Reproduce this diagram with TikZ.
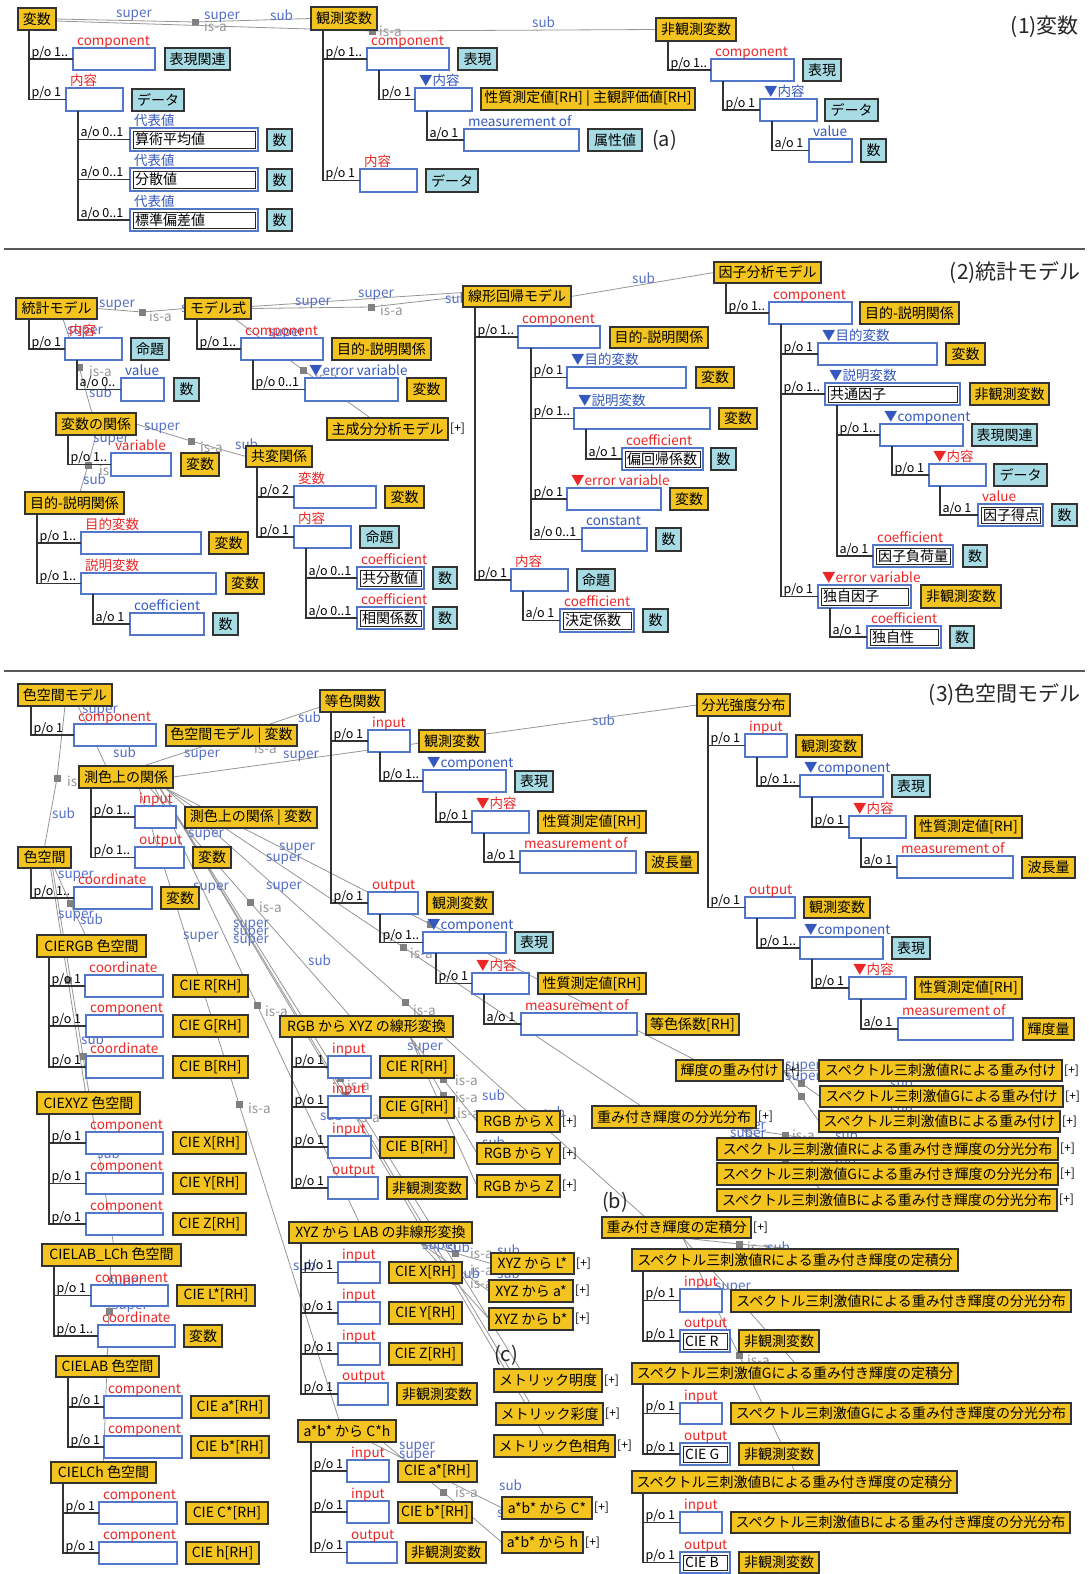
\documentclass[tikz,border=0pt]{standalone}
\usepackage{fontspec}
\setmainfont{Noto Sans CJK JP}
\pgfdeclarelayer{back}
\pgfdeclarelayer{links}
\pgfsetlayers{back,links,main}

\definecolor{clsY}{RGB}{243,195,32}
\definecolor{insB}{RGB}{168,220,228}
\definecolor{slotB}{RGB}{82,118,200}
\definecolor{roleR}{RGB}{236,38,38}
\definecolor{roleB}{RGB}{52,88,190}
\definecolor{linkG}{RGB}{150,150,150}
\definecolor{supB}{RGB}{86,112,200}

\newcommand\fsz[1]{\fontsize{#1}{#1}\selectfont}
\newcounter{lbl}

\tikzset{
  bx/.style={draw=black!80, line width=1.1pt, inner sep=0pt, outer sep=0pt, font=\fsz{14}, text=black},
  clsb/.style={bx, fill=clsY},
  insb/.style={bx, fill=insB},
  slotb/.style={draw=slotB, line width=1.1pt, fill=white, inner sep=0pt, outer sep=0pt},
  rr/.style={text=roleR, font=\fsz{13.5}, inner sep=0pt},
  bb/.style={text=roleB, font=\fsz{13.5}, inner sep=0pt},
  card/.style={text=black, font=\fsz{12.5}, inner sep=0pt},
  trl/.style={draw=black!80, line width=1.2pt},
  isa/.style={draw=linkG, line width=0.8pt},
  sqr/.style={fill=black!50, minimum size=7pt, inner sep=0pt},
  lsup/.style={text=supB, font=\fsz{13.5}, inner sep=0pt, anchor=west},
  lisa/.style={text=linkG, font=\fsz{13.5}, inner sep=0pt, anchor=west},
  plusmk/.style={text=black, font=\fsz{12}, inner sep=0pt, anchor=west},
  ttl/.style={text=black!85, font=\fsz{21}, inner sep=0pt},
  vtext/.style={text=black, font=\fsz{14}, inner sep=0pt, anchor=west},
  sepl/.style={draw=black!65, line width=1.2pt},
}

% class box (yellow), instance box (light blue): name, x1, y1, x2, y2, text
\newcommand\mkcls[6]{\node[clsb,minimum width={(#4-#2)*1pt},minimum height={(#5-#3)*1pt},anchor=north west] (#1) at (#2,#3) {#6};}
\newcommand\mkins[6]{\node[insb,minimum width={(#4-#2)*1pt},minimum height={(#5-#3)*1pt},anchor=north west] (#1) at (#2,#3) {#6};}
% slot with its role label above
\newcommand\mkslot[7][rr]{\node[slotb,minimum width={(#5-#3)*1pt},minimum height={(#6-#4)*1pt},anchor=north west] (#2) at (#3,#4) {};\node[#1,anchor=base west] (#2-r) at ([shift={(4pt,3pt)}]#2.north west) {#7};}
% slot holding a value
\newcommand\mkval[8][rr]{\mkslot[#1]{#2}{#3}{#4}{#5}{#6}{#7}\draw[black!85,line width=1pt] ([shift={(3pt,-3pt)}]#2.north west) rectangle ([shift={(-3pt,3pt)}]#2.south east);\node[vtext] (#2-t) at ([xshift=5pt]#2.west) {#8};}
% part-of branch: parent, x offset of the trunk, child, cardinality
\newcommand\mkbr[4]{\draw[trl] ([xshift=#2pt]#1.south west) |- node[card,pos=0.5,anchor=base west,xshift=2pt,yshift=3pt] (#3-c) {#4} (#3.west);}
\newcommand\mkplus[1]{\node[plusmk] (#1-p) at ([xshift=2pt]#1.east) {[+]};}
% is-a link labels
\newcommand\ls[3]{\stepcounter{lbl}\node[lsup] (l\arabic{lbl}) at (#1,#2) {#3};}
\newcommand\li[3]{\stepcounter{lbl}\node[lisa] (l\arabic{lbl}) at (#1,#2) {#3};}
% is-a link through a square
\newcommand\isa[4]{\coordinate (#2) at #3;\draw[isa] #1 -- (#2) -- #4;\node[sqr] (#2-s) at (#2) {};}

\begin{document}
\begin{tikzpicture}[x=1pt,y=-1pt]
\useasboundingbox (0,0) rectangle (1089,1574);
\begin{pgfonlayer}{back}
\fill[white] (0,0) rectangle (1089,1574);
\end{pgfonlayer}

\draw[sepl] (4,249) -- (1085,249);
\draw[sepl] (4,671) -- (1085,671);

\node[ttl,anchor=east] (t1) at (1079,27) {(1)変数};
\node[ttl,anchor=east] (t2) at (1081,273) {(2)統計モデル};
\node[ttl,anchor=east] (t3) at (1081,695) {(3)色空間モデル};
\node[ttl,anchor=west,font=\fsz{20}] (ta) at (652,140) {(a)};
\node[ttl,anchor=west,font=\fsz{20}] (tb) at (602,1202) {(b)};
\node[ttl,anchor=west,font=\fsz{20}] (tc) at (494,1355) {(c)};

% ---------------- (1) variables
\mkcls{v}{18}{8}{56}{30}{変数}
\mkcls{ov}{311}{7}{377}{30}{観測変数}
\mkcls{nov}{656}{18}{736}{41}{非観測変数}
\mkslot{v1}{73}{48}{155}{70}{component}
\mkins{v1c}{165}{48}{230}{70}{表現関連}
\mkslot{v2}{66}{88}{123}{111}{内容}
\mkins{v2c}{132}{89}{184}{111}{データ}
\mkval[bb]{v21}{130}{128}{258}{151}{代表値}{算術平均値}
\mkins{v21c}{267}{129}{292}{151}{数}
\mkval[bb]{v22}{130}{168}{258}{191}{代表値}{分散値}
\mkins{v22c}{267}{169}{292}{191}{数}
\mkval[bb]{v23}{130}{209}{258}{231}{代表値}{標準偏差値}
\mkins{v23c}{267}{209}{292}{231}{数}
\mkslot{o1}{367}{48}{449}{70}{component}
\mkins{o1c}{458}{48}{497}{70}{表現}
\mkslot[bb]{o11}{415}{88}{472}{111}{▼内容}
\mkcls{o11c}{481}{88}{695}{110}{性質測定値[RH] | 主観評価値[RH]}
\mkslot[bb]{o111}{464}{129}{579}{151}{measurement of}
\mkins{o111c}{588}{129}{642}{151}{属性値}
\mkslot{o2}{360}{169}{417}{192}{内容}
\mkins{o2c}{426}{169}{478}{192}{データ}
\mkslot{n1}{711}{59}{794}{81}{component}
\mkins{n1c}{803}{59}{841}{81}{表現}
\mkslot[bb]{n11}{760}{99}{817}{121}{▼内容}
\mkins{n11c}{825}{99}{878}{121}{データ}
\mkslot[bb]{n111}{809}{139}{852}{162}{value}
\mkins{n111c}{861}{139}{886}{162}{数}

\mkbr{v}{11}{v1}{p/o 1..}
\mkbr{v}{11}{v2}{p/o 1}
\mkbr{v2}{12}{v21}{a/o 0..1}
\mkbr{v2}{12}{v22}{a/o 0..1}
\mkbr{v2}{12}{v23}{a/o 0..1}
\mkbr{ov}{12}{o1}{p/o 1..}
\mkbr{o1}{12}{o11}{p/o 1}
\mkbr{o11}{12}{o111}{a/o 1}
\mkbr{ov}{12}{o2}{p/o 1}
\mkbr{nov}{12}{n1}{p/o 1..}
\mkbr{n1}{12}{n11}{p/o 1}
\mkbr{n11}{12}{n111}{a/o 1}

% ---------------- (2) statistical models
\mkcls{sm}{16}{298}{97}{319}{統計モデル}
\mkcls{mf}{185}{298}{251}{319}{モデル式}
\mkcls{lr}{463}{286}{571}{307}{線形回帰モデル}
\mkcls{fa}{714}{262}{821}{283}{因子分析モデル}
\mkcls{vr}{56}{413}{136}{435}{変数の関係}
\mkcls{cv}{246}{446}{312}{467}{共変関係}
\mkcls{ep}{25}{492}{124}{514}{目的-説明関係}
\mkcls{pca}{327}{418}{448}{440}{主成分分析モデル}\mkplus{pca}
\mkslot{s1}{65}{338}{122}{360}{内容}
\mkins{s1c}{131}{338}{169}{360}{命題}
\mkslot[bb]{s11}{121}{378}{164}{401}{value}
\mkins{s11c}{174}{378}{199}{401}{数}
\mkslot{m1}{241}{338}{323}{360}{component}
\mkcls{m1c}{332}{338}{431}{360}{目的-説明関係}
\mkslot[bb]{m11}{305}{378}{398}{401}{▼error variable}
\mkcls{m11c}{407}{378}{446}{401}{変数}
\mkslot{r1}{111}{453}{171}{476}{variable}
\mkcls{r1c}{181}{453}{219}{476}{変数}
\mkslot{e1}{81}{532}{201}{554}{目的変数}
\mkcls{e1c}{209}{532}{248}{554}{変数}
\mkslot{e2}{81}{573}{216}{594}{説明変数}
\mkcls{e2c}{226}{573}{264}{594}{変数}
\mkslot[bb]{e21}{130}{613}{204}{635}{coefficient}
\mkins{e21c}{213}{613}{238}{635}{数}
\mkslot{c1}{294}{486}{376}{508}{変数}
\mkcls{c1c}{385}{486}{424}{508}{変数}
\mkslot{c2}{294}{526}{351}{548}{内容}
\mkins{c2c}{360}{526}{399}{548}{命題}
\mkval{c21}{357}{567}{424}{589}{coefficient}{共分散値}
\mkins{c21c}{433}{567}{457}{589}{数}
\mkval{c22}{357}{607}{424}{629}{coefficient}{相関係数}
\mkins{c22c}{433}{607}{457}{629}{数}
\mkslot{l1}{518}{326}{600}{348}{component}
\mkcls{l1c}{610}{327}{708}{348}{目的-説明関係}
\mkslot[bb]{l11}{567}{367}{686}{388}{▼目的変数}
\mkcls{l11c}{696}{367}{734}{388}{変数}
\mkslot[bb]{l12}{574}{408}{710}{429}{▼説明変数}
\mkcls{l12c}{719}{408}{757}{429}{変数}
\mkval{l121}{622}{448}{703}{470}{coefficient}{偏回帰係数}
\mkins{l121c}{711}{448}{736}{470}{数}
\mkslot{l13}{567}{488}{661}{510}{▼error variable}
\mkcls{l13c}{670}{488}{708}{510}{変数}
\mkslot[bb]{l14}{582}{528}{647}{551}{constant}
\mkins{l14c}{656}{528}{681}{551}{数}
\mkslot{l2}{511}{569}{568}{591}{内容}
\mkins{l2c}{577}{569}{615}{591}{命題}
\mkval{l21}{560}{609}{634}{632}{coefficient}{決定係数}
\mkins{l21c}{643}{609}{668}{632}{数}
\mkslot{f1}{769}{302}{852}{324}{component}
\mkcls{f1c}{860}{302}{959}{324}{目的-説明関係}
\mkslot[bb]{f11}{818}{343}{937}{365}{▼目的変数}
\mkcls{f11c}{946}{343}{985}{365}{変数}
\mkval[bb]{f12}{825}{383}{960}{405}{▼説明変数}{共通因子}
\mkcls{f12c}{970}{383}{1049}{405}{非観測変数}
\mkslot[bb]{f121}{880}{424}{963}{446}{▼component}
\mkins{f121c}{972}{424}{1037}{446}{表現関連}
\mkslot{f1211}{929}{464}{986}{486}{▼内容}
\mkins{f1211c}{994}{464}{1047}{486}{データ}
\mkval{f12111}{978}{504}{1043}{526}{value}{因子得点}
\mkins{f12111c}{1052}{504}{1077}{526}{数}
\mkval{f122}{873}{545}{953}{567}{coefficient}{因子負荷量}
\mkins{f122c}{963}{545}{987}{567}{数}
\mkval{f13}{818}{585}{911}{608}{▼error variable}{独自因子}
\mkcls{f13c}{921}{585}{1001}{608}{非観測変数}
\mkval{f131}{867}{626}{941}{648}{coefficient}{独自性}
\mkins{f131c}{950}{626}{974}{648}{数}

\mkbr{sm}{13}{s1}{p/o 1}
\mkbr{s1}{12}{s11}{a/o 0..}
\mkbr{mf}{12}{m1}{p/o 1..}
\mkbr{m1}{12}{m11}{p/o 0..1}
\mkbr{vr}{12}{r1}{p/o 1..}
\mkbr{ep}{12}{e1}{p/o 1..}
\mkbr{ep}{12}{e2}{p/o 1..}
\mkbr{e2}{12}{e21}{a/o 1}
\mkbr{cv}{11}{c1}{p/o 2}
\mkbr{cv}{11}{c2}{p/o 1}
\mkbr{c2}{12}{c21}{a/o 0..1}
\mkbr{c2}{12}{c22}{a/o 0..1}
\mkbr{lr}{12}{l1}{p/o 1..}
\mkbr{l1}{13}{l11}{p/o 1}
\mkbr{l1}{13}{l12}{p/o 1..}
\mkbr{l12}{12}{l121}{a/o 1}
\mkbr{l1}{13}{l13}{p/o 1}
\mkbr{l1}{13}{l14}{a/o 0..1}
\mkbr{lr}{12}{l2}{p/o 1}
\mkbr{l2}{12}{l21}{a/o 1}
\mkbr{fa}{12}{f1}{p/o 1..}
\mkbr{f1}{12}{f11}{p/o 1}
\mkbr{f1}{12}{f12}{p/o 1..}
\mkbr{f12}{12}{f121}{p/o 1..}
\mkbr{f121}{12}{f1211}{p/o 1}
\mkbr{f1211}{11}{f12111}{a/o 1}
\mkbr{f12}{12}{f122}{a/o 1}
\mkbr{f1}{12}{f13}{p/o 1}
\mkbr{f13}{12}{f131}{a/o 1}

% ---------------- (3) colour space models
\mkcls{csm}{18}{684}{112}{706}{色空間モデル}
\mkslot{k1}{74}{724}{156}{746}{component}
\mkcls{k1c}{166}{725}{297}{746}{色空間モデル | 変数}
\mkcls{cm}{320}{690}{385}{712}{等色関数}
\mkcls{sd}{697}{694}{790}{716}{分光強度分布}
\mkcls{mr}{79}{766}{173}{788}{測色上の関係}
\mkslot{mr1}{135}{806}{176}{828}{input}
\mkcls{mr1c}{185}{807}{317}{828}{測色上の関係 | 変数}
\mkslot{mr2}{135}{847}{184}{868}{output}
\mkcls{mr2c}{193}{847}{231}{868}{変数}
\mkcls{cs}{18}{847}{71}{868}{色空間}
\mkslot{cs1}{74}{887}{152}{909}{coordinate}
\mkcls{cs1c}{161}{887}{199}{909}{変数}
\mkcls{rgb}{37}{935}{146}{957}{CIERGB 色空間}
\mkslot{rg1}{85}{975}{163}{997}{coordinate}
\mkcls{rg1c}{173}{975}{248}{997}{CIE R[RH]}
\mkslot{rg2}{86}{1015}{163}{1037}{component}
\mkcls{rg2c}{173}{1015}{248}{1037}{CIE G[RH]}
\mkslot{rg3}{86}{1056}{163}{1078}{coordinate}
\mkcls{rg3c}{173}{1056}{248}{1078}{CIE B[RH]}
\mkcls{xyz}{37}{1092}{140}{1114}{CIEXYZ 色空間}
\mkslot{xy1}{86}{1132}{163}{1154}{component}
\mkcls{xy1c}{173}{1132}{246}{1154}{CIE X[RH]}
\mkslot{xy2}{86}{1173}{163}{1194}{component}
\mkcls{xy2c}{173}{1173}{246}{1194}{CIE Y[RH]}
\mkslot{xy3}{86}{1213}{163}{1235}{component}
\mkcls{xy3c}{173}{1213}{246}{1235}{CIE Z[RH]}
\mkcls{lch}{42}{1244}{181}{1266}{CIELAB\_LCh 色空間}
\mkslot{lc1}{91}{1285}{168}{1306}{component}
\mkcls{lc1c}{177}{1285}{255}{1306}{CIE L*[RH]}
\mkslot{lc2}{98}{1325}{175}{1347}{coordinate}
\mkcls{lc2c}{184}{1325}{222}{1347}{変数}
\mkcls{lab}{56}{1356}{159}{1377}{CIELAB 色空間}
\mkslot{la1}{104}{1396}{182}{1418}{component}
\mkcls{la1c}{191}{1396}{269}{1418}{CIE a*[RH]}
\mkslot{la2}{104}{1436}{182}{1458}{component}
\mkcls{la2c}{191}{1436}{269}{1458}{CIE b*[RH]}
\mkcls{lc}{51}{1462}{156}{1483}{CIELCh 色空間}
\mkslot{lh1}{99}{1502}{177}{1524}{component}
\mkcls{lh1c}{186}{1502}{268}{1524}{CIE C*[RH]}
\mkslot{lh2}{99}{1542}{177}{1564}{component}
\mkcls{lh2c}{186}{1542}{259}{1564}{CIE h[RH]}

\mkslot{cm1}{368}{730}{410}{752}{input}
\mkcls{cm1c}{419}{730}{485}{752}{観測変数}
\mkslot[bb]{cm11}{423}{770}{506}{792}{▼component}
\mkins{cm11c}{515}{771}{553}{792}{表現}
\mkslot{cm111}{472}{811}{529}{833}{▼内容}
\mkcls{cm111c}{538}{811}{646}{833}{性質測定値[RH]}
\mkslot{cm1111}{520}{851}{636}{873}{measurement of}
\mkcls{cm1111c}{646}{852}{698}{873}{波長量}
\mkslot{cm2}{368}{892}{418}{914}{output}
\mkcls{cm2c}{427}{892}{493}{914}{観測変数}
\mkslot[bb]{cm21}{423}{932}{506}{953}{▼component}
\mkins{cm21c}{515}{932}{553}{953}{表現}
\mkslot{cm211}{472}{973}{529}{994}{▼内容}
\mkcls{cm211c}{538}{973}{646}{994}{性質測定値[RH]}
\mkslot{cm2111}{521}{1013}{637}{1035}{measurement of}
\mkcls{cm2111c}{646}{1014}{739}{1035}{等色係数[RH]}

\mkslot{sd1}{745}{734}{787}{757}{input}
\mkcls{sd1c}{796}{735}{862}{757}{観測変数}
\mkslot[bb]{sd11}{800}{775}{883}{797}{▼component}
\mkins{sd11c}{892}{775}{930}{797}{表現}
\mkslot{sd111}{849}{816}{906}{838}{▼内容}
\mkcls{sd111c}{915}{816}{1022}{838}{性質測定値[RH]}
\mkslot{sd1111}{897}{856}{1013}{878}{measurement of}
\mkcls{sd1111c}{1022}{857}{1075}{878}{波長量}
\mkslot{sd2}{745}{897}{795}{918}{output}
\mkcls{sd2c}{804}{897}{870}{918}{観測変数}
\mkslot[bb]{sd21}{800}{937}{883}{959}{▼component}
\mkins{sd21c}{892}{937}{930}{959}{表現}
\mkslot{sd211}{849}{977}{906}{999}{▼内容}
\mkcls{sd211c}{915}{977}{1022}{999}{性質測定値[RH]}
\mkslot{sd2111}{898}{1018}{1013}{1040}{measurement of}
\mkcls{sd2111c}{1023}{1018}{1074}{1040}{輝度量}

\mkcls{rx}{280}{1016}{453}{1037}{RGB から XYZ の線形変換}
\mkslot{rx1}{328}{1056}{371}{1078}{input}
\mkcls{rx1c}{380}{1056}{454}{1078}{CIE R[RH]}
\mkslot{rx2}{328}{1096}{371}{1118}{input}
\mkcls{rx2c}{380}{1097}{454}{1118}{CIE G[RH]}
\mkslot{rx3}{328}{1136}{371}{1158}{input}
\mkcls{rx3c}{380}{1137}{454}{1158}{CIE B[RH]}
\mkslot{rx4}{328}{1177}{378}{1199}{output}
\mkcls{rx4c}{387}{1177}{467}{1199}{非観測変数}
\mkcls{rX}{477}{1111}{560}{1132}{RGB から X}\mkplus{rX}
\mkcls{rY}{477}{1143}{560}{1164}{RGB から Y}\mkplus{rY}
\mkcls{rZ}{477}{1175}{560}{1197}{RGB から Z}\mkplus{rZ}

\mkcls{xl}{289}{1222}{472}{1243}{XYZ から LAB の非線形変換}
\mkslot{xl1}{338}{1262}{380}{1283}{input}
\mkcls{xl1c}{389}{1262}{462}{1283}{CIE X[RH]}
\mkslot{xl2}{338}{1302}{380}{1324}{input}
\mkcls{xl2c}{389}{1302}{462}{1324}{CIE Y[RH]}
\mkslot{xl3}{338}{1343}{380}{1365}{input}
\mkcls{xl3c}{389}{1343}{462}{1365}{CIE Z[RH]}
\mkslot{xl4}{338}{1383}{388}{1405}{output}
\mkcls{xl4c}{397}{1383}{477}{1405}{非観測変数}
\mkcls{xL}{491}{1253}{574}{1274}{XYZ から L*}\mkplus{xL}
\mkcls{xa}{489}{1280}{573}{1302}{XYZ から a*}\mkplus{xa}
\mkcls{xb}{489}{1308}{573}{1330}{XYZ から b*}\mkplus{xb}
\mkcls{mt1}{494}{1369}{602}{1392}{メトリック明度}\mkplus{mt1}
\mkcls{mt2}{496}{1403}{603}{1425}{メトリック彩度}\mkplus{mt2}
\mkcls{mt3}{494}{1435}{615}{1457}{メトリック色相角}\mkplus{mt3}

\mkcls{ac}{298}{1420}{396}{1442}{a*b* から C*h}
\mkslot{ac1}{347}{1460}{389}{1482}{input}
\mkcls{ac1c}{398}{1461}{477}{1482}{CIE a*[RH]}
\mkslot{ac2}{347}{1501}{389}{1523}{input}
\mkcls{ac2c}{398}{1502}{472}{1523}{CIE b*[RH]}
\mkslot{ac3}{347}{1542}{397}{1563}{output}
\mkcls{ac3c}{406}{1542}{486}{1563}{非観測変数}
\mkcls{aC}{502}{1497}{592}{1519}{a*b* から C*}\mkplus{aC}
\mkcls{ah}{502}{1532}{583}{1553}{a*b* から h}\mkplus{ah}

\mkcls{lw}{676}{1060}{783}{1081}{輝度の重み付け}\mkplus{lw}
\mkcls{sR}{819}{1060}{1062}{1081}{スペクトル三刺激値Rによる重み付け}\mkplus{sR}
\mkcls{sG}{820}{1086}{1063}{1107}{スペクトル三刺激値Gによる重み付け}\mkplus{sG}
\mkcls{sB}{819}{1111}{1060}{1132}{スペクトル三刺激値Bによる重み付け}\mkplus{sB}
\mkcls{ws}{592}{1106}{756}{1128}{重み付き輝度の分光分布}\mkplus{ws}
\mkcls{wR}{717}{1138}{1058}{1160}{スペクトル三刺激値Rによる重み付き輝度の分光分布}\mkplus{wR}
\mkcls{wG}{717}{1163}{1058}{1185}{スペクトル三刺激値Gによる重み付き輝度の分光分布}\mkplus{wG}
\mkcls{wB}{717}{1189}{1057}{1211}{スペクトル三刺激値Bによる重み付き輝度の分光分布}\mkplus{wB}
\mkcls{wi}{602}{1217}{751}{1238}{重み付き輝度の定積分}\mkplus{wi}
\mkcls{iR}{632}{1249}{958}{1271}{スペクトル三刺激値Rによる重み付き輝度の定積分}
\mkslot{iR1}{680}{1289}{722}{1312}{input}
\mkcls{iR1c}{731}{1290}{1071}{1312}{スペクトル三刺激値Rによる重み付き輝度の分光分布}
\mkval{iR2}{680}{1330}{730}{1352}{output}{CIE R}
\mkcls{iR2c}{739}{1330}{819}{1352}{非観測変数}
\mkcls{iG}{632}{1363}{958}{1384}{スペクトル三刺激値Gによる重み付き輝度の定積分}
\mkslot{iG1}{680}{1403}{722}{1424}{input}
\mkcls{iG1c}{731}{1403}{1071}{1424}{スペクトル三刺激値Gによる重み付き輝度の分光分布}
\mkval{iG2}{680}{1443}{730}{1465}{output}{CIE G}
\mkcls{iG2c}{739}{1443}{819}{1465}{非観測変数}
\mkcls{iB}{632}{1471}{957}{1493}{スペクトル三刺激値Bによる重み付き輝度の定積分}
\mkslot{iB1}{680}{1512}{722}{1533}{input}
\mkcls{iB1c}{731}{1512}{1070}{1533}{スペクトル三刺激値Bによる重み付き輝度の分光分布}
\mkval{iB2}{680}{1552}{730}{1573}{output}{CIE B}
\mkcls{iB2c}{739}{1552}{819}{1573}{非観測変数}

\mkbr{csm}{13}{k1}{p/o 1}
\mkbr{mr}{12}{mr1}{p/o 1..}
\mkbr{mr}{12}{mr2}{p/o 1..}
\mkbr{cs}{13}{cs1}{p/o 1..}
\mkbr{rgb}{12}{rg1}{p/o 1}
\mkbr{rgb}{12}{rg2}{p/o 1}
\mkbr{rgb}{12}{rg3}{p/o 1}
\mkbr{xyz}{12}{xy1}{p/o 1}
\mkbr{xyz}{12}{xy2}{p/o 1}
\mkbr{xyz}{12}{xy3}{p/o 1}
\mkbr{lch}{12}{lc1}{p/o 1}
\mkbr{lch}{12}{lc2}{p/o 1..}
\mkbr{lab}{12}{la1}{p/o 1}
\mkbr{lab}{12}{la2}{p/o 1}
\mkbr{lc}{12}{lh1}{p/o 1}
\mkbr{lc}{12}{lh2}{p/o 1}
\mkbr{cm}{11}{cm1}{p/o 1}
\mkbr{cm1}{12}{cm11}{p/o 1..}
\mkbr{cm11}{13}{cm111}{p/o 1}
\mkbr{cm111}{12}{cm1111}{a/o 1}
\mkbr{cm}{11}{cm2}{p/o 1}
\mkbr{cm2}{12}{cm21}{p/o 1..}
\mkbr{cm21}{13}{cm211}{p/o 1}
\mkbr{cm211}{12}{cm2111}{a/o 1}
\mkbr{sd}{11}{sd1}{p/o 1}
\mkbr{sd1}{12}{sd11}{p/o 1..}
\mkbr{sd11}{12}{sd111}{p/o 1}
\mkbr{sd111}{12}{sd1111}{a/o 1}
\mkbr{sd}{11}{sd2}{p/o 1}
\mkbr{sd2}{12}{sd21}{p/o 1..}
\mkbr{sd21}{12}{sd211}{p/o 1}
\mkbr{sd211}{12}{sd2111}{a/o 1}
\mkbr{rx}{12}{rx1}{p/o 1}
\mkbr{rx}{12}{rx2}{p/o 1}
\mkbr{rx}{12}{rx3}{p/o 1}
\mkbr{rx}{12}{rx4}{p/o 1}
\mkbr{xl}{12}{xl1}{p/o 1}
\mkbr{xl}{12}{xl2}{p/o 1}
\mkbr{xl}{12}{xl3}{p/o 1}
\mkbr{xl}{12}{xl4}{p/o 1}
\mkbr{ac}{13}{ac1}{p/o 1}
\mkbr{ac}{13}{ac2}{p/o 1}
\mkbr{ac}{13}{ac3}{p/o 1}
\mkbr{iR}{11}{iR1}{p/o 1}
\mkbr{iR}{11}{iR2}{p/o 1}
\mkbr{iG}{11}{iG1}{p/o 1}
\mkbr{iG}{11}{iG2}{p/o 1}
\mkbr{iB}{11}{iB1}{p/o 1}
\mkbr{iB}{11}{iB2}{p/o 1}

% ---------------- is-a links (behind the boxes)
\begin{pgfonlayer}{links}
% (1)
\isa{(v.east)}{q1}{(195,22)}{(ov.west)}
\isa{([yshift=-2pt]v.east)}{q2}{(372,31)}{(nov.west)}
\ls{116}{15}{super}\ls{204}{17}{super}\li{204}{26}{is-a}\ls{270}{15}{sub}
\li{379}{31}{is-a}\ls{532}{22}{sub}
% (2)
\isa{(sm.east)}{q3}{(142,312)}{(mf.west)}
\ls{99}{305}{super}\li{149}{316}{is-a}\ls{181}{307}{sub}
\isa{([xshift=-34pt]sm.south east)}{q4}{(79,367)}{([xshift=-4pt]vr.north)}
\ls{67}{332}{super}\li{89}{371}{is-a}\ls{89}{392}{sub}
\isa{(mf.east)}{q5}{(371,307)}{(lr.west)}
\draw[isa] ([yshift=2pt]mf.east) -- ([yshift=4pt]lr.west);
\ls{295}{303}{super}\ls{358}{295}{super}\li{380}{310}{is-a}\ls{445}{298}{sub}
\draw[isa] (lr.east) -- (fa.west);
\ls{632}{278}{sub}
\isa{([xshift=-16pt]mf.south east)}{q6}{(303,370)}{([xshift=-17pt]pca.north)}
\ls{268}{334}{super}\li{315}{377}{is-a}
\isa{(vr.east)}{q7}{(191,441)}{(cv.west)}
\ls{144}{428}{super}\li{200}{447}{is-a}\ls{235}{444}{sub}
\isa{([xshift=40pt]vr.south west)}{q8}{(88,465)}{([xshift=55pt]ep.north west)}
\ls{93}{440}{super}\li{99}{470}{is-a}\ls{83}{479}{sub}
% (3) colour spaces
\isa{(csm.south)}{q9}{(57,778)}{(cs.north)}
\li{67}{781}{is-a}\ls{52}{813}{sub}
\draw[isa] ([xshift=13pt]csm.south) -- ([xshift=-20pt]mr.north);
\ls{82}{711}{super}\ls{113}{752}{sub}
\isa{([xshift=-30pt]mr.north east)}{q10}{(232,737)}{([yshift=-6pt]cm.west)}
\ls{184}{755}{super}\li{254}{748}{is-a}\ls{298}{717}{sub}
\isa{(mr.east)}{q11}{(435,741)}{(sd.west)}
\ls{283}{756}{super}\ls{592}{720}{sub}
\isa{([xshift=10pt]cs.south)}{q12}{(70,903)}{([xshift=-6pt]rgb.north)}
\isa{([xshift=6pt]cs.south)}{q13}{(68,980)}{([xshift=-3pt]xyz.north)}
\isa{([xshift=8pt]cs.south)}{q14}{(83,1056)}{([xshift=2pt]lch.north)}
\ls{58}{876}{super}\ls{58}{916}{super}\ls{80}{919}{sub}\ls{81}{1039}{sub}\ls{97}{1153}{sub}
\isa{([xshift=-1pt]lch.south)}{q15}{(109,1311)}{(lab.north)}
\isa{([xshift=-1pt]lch.south)}{q16}{(107,1364)}{(lc.north)}
\ls{108}{1283}{super}\ls{112}{1307}{super}
% (3) colorimetric relations
\isa{([xshift=71pt]mr.south west)}{q17}{(250,902)}{([xshift=-16.5pt]rx.north)}
\isa{([xshift=76pt]mr.south west)}{q18}{(257,1005)}{([xshift=-21.5pt]xl.north)}
\isa{([xshift=60pt]mr.south west)}{q19}{(239,1104)}{([xshift=-8pt]ac.north)}
\isa{([xshift=86pt]mr.south west)}{q40}{(430,924)}{([xshift=-34.5pt]lw.north)}
\isa{([xshift=86pt]mr.south west)}{q41}{(403,947)}{([xshift=-33pt]ws.north)}
\isa{([xshift=86pt]mr.south west)}{q42}{(405,1002)}{([xshift=-31.5pt]wi.north)}
\isa{([xshift=81pt]mr.south west)}{q43}{(340,1078)}{([xshift=-28pt]mt1.north)}
\isa{([xshift=81pt]mr.south west)}{q44}{(345,1095)}{([xshift=-19.5pt]mt2.north)}
\isa{([xshift=81pt]mr.south west)}{q45}{(352,1111)}{([xshift=-10.5pt]mt3.north)}
\ls{188}{835}{super}\ls{279}{848}{super}\ls{266}{859}{super}\ls{193}{888}{super}
\ls{266}{887}{super}\ls{183}{937}{super}\ls{233}{925}{super}\ls{233}{933}{super}
\ls{233}{941}{super}\ls{308}{960}{sub}
\li{259}{907}{is-a}\li{410}{953}{is-a}\li{265}{1011}{is-a}\li{248}{1108}{is-a}
\li{413}{1010}{is-a}\ls{407}{1048}{super}\li{347}{1085}{is-a}\li{357}{1117}{is-a}
\ls{320}{1115}{sub}
\isa{([xshift=-43pt]rx.south east)}{q20}{(443,1079)}{(rX.west)}
\isa{([xshift=-43pt]rx.south east)}{q21}{(443,1095)}{(rY.west)}
\isa{([xshift=-43pt]rx.south east)}{q22}{(443,1111)}{(rZ.west)}
\li{455}{1080}{is-a}\li{455}{1097}{is-a}\li{457}{1113}{is-a}
\ls{482}{1095}{sub}\ls{482}{1142}{sub}\ls{542}{1112}{sub}
\isa{([xshift=-52pt]xl.south east)}{q23}{(455,1253)}{(xL.west)}
\isa{([xshift=-52pt]xl.south east)}{q24}{(455,1267)}{(xa.west)}
\isa{([xshift=-52pt]xl.south east)}{q25}{(455,1281)}{(xb.west)}
\ls{422}{1247}{super}\ls{447}{1247}{sub}\li{470}{1253}{is-a}\ls{497}{1250}{sub}
\li{470}{1270}{is-a}\ls{497}{1273}{sub}\li{470}{1283}{is-a}\ls{457}{1273}{sub}
\ls{293}{1265}{sub}
\isa{([xshift=-26pt]ac.south east)}{q26}{(436,1475)}{(aC.west)}
\isa{([xshift=-13pt]ac.south east)}{q27}{(443,1492)}{(ah.west)}
\ls{399}{1447}{super}\ls{399}{1456}{super}\li{455}{1477}{is-a}\ls{499}{1485}{sub}
\li{455}{1492}{is-a}\ls{497}{1512}{sub}
% (3) weighting and integration
\draw[isa] (lw.east) -- (sR.west);
\isa{(lw.east)}{q28}{(801,1083)}{(sG.west)}
\isa{(lw.east)}{q29}{(801,1096)}{(sB.west)}
\ls{785}{1067}{super}\ls{785}{1078}{super}\ls{890}{1083}{sub}\ls{890}{1109}{sub}
\isa{([xshift=-16pt]ws.south east)}{q30}{(785,1135)}{([shift={(113pt,-4pt)}]wR.north west)}
\isa{([xshift=-16pt]ws.south east)}{q31}{(785,1149)}{([shift={(113pt,-32pt)}]wR.north west)}
\isa{([xshift=-16pt]ws.south east)}{q32}{(785,1162)}{([shift={(113pt,-58pt)}]wR.north west)}
\ls{730}{1127}{super}\ls{730}{1135}{super}\li{792}{1135}{is-a}\ls{835}{1135}{sub}
\ls{833}{1160}{sub}
\isa{([xshift=-68pt]wi.south east)}{q33}{(739,1244)}{(iR.north)}
\isa{([xshift=-68pt]wi.south east)}{q34}{(739,1300)}{(iG.north)}
\isa{([xshift=-68pt]wi.south east)}{q35}{(739,1355)}{(iB.north)}
\li{747}{1247}{is-a}\ls{767}{1247}{sub}\ls{715}{1288}{super}\li{747}{1360}{is-a}
\end{pgfonlayer}
\end{tikzpicture}
\end{document}
